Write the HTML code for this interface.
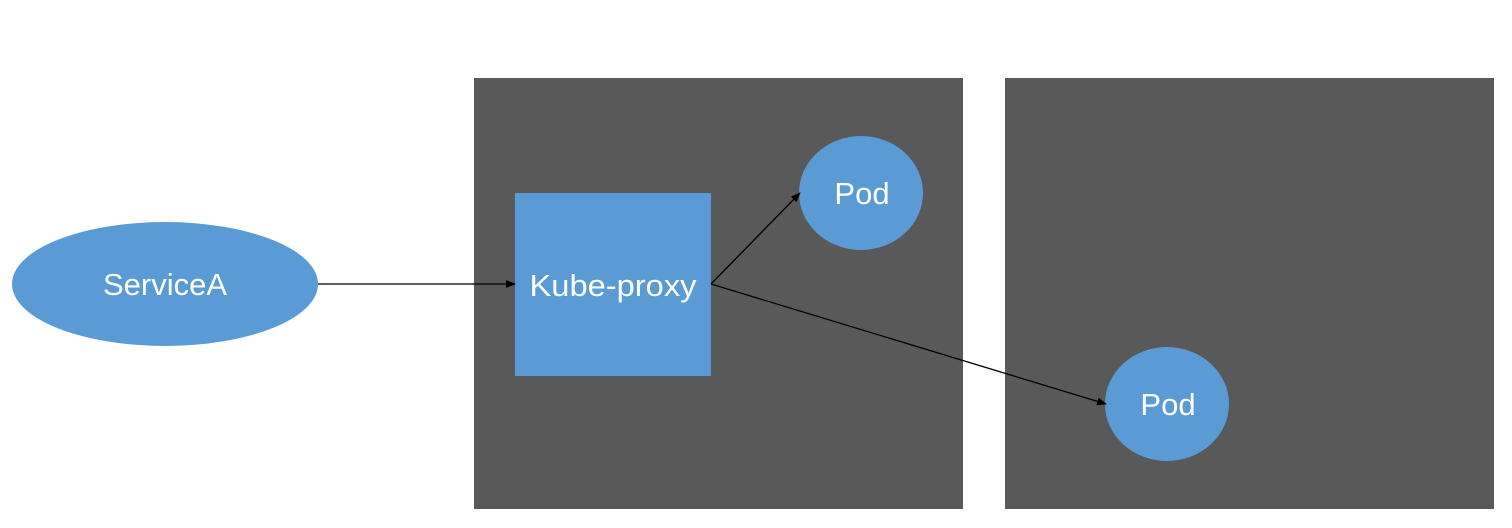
<!DOCTYPE html>
<html><head><meta charset="utf-8"><style>html,body{margin:0;padding:0;background:#fff;width:1512px;height:528px;overflow:hidden}</style></head>
<body>
<svg width="1512" height="528" viewBox="0 0 1512 528" xmlns="http://www.w3.org/2000/svg" font-family="Liberation Sans, DejaVu Sans, sans-serif">
<defs><marker id="a" markerWidth="10" markerHeight="8" refX="9" refY="4" orient="auto" markerUnits="userSpaceOnUse"><path d="M0,0 L10,4 L0,8 z" fill="#000"/></marker></defs>
<rect x="474" y="78" width="489" height="431" fill="#595959"/>
<rect x="1005" y="78" width="489" height="431" fill="#595959"/>
<ellipse cx="165" cy="284" rx="153" ry="62" fill="#5b9bd5"/>
<text x="165" y="295" fill="#fff" font-size="31" text-anchor="middle">ServiceA</text>
<rect x="515" y="193" width="196" height="183" fill="#5b9bd5"/>
<text x="613" y="296" fill="#fff" font-size="31" text-anchor="middle" textLength="167" lengthAdjust="spacingAndGlyphs">Kube-proxy</text>
<ellipse cx="861" cy="193" rx="62" ry="57" fill="#5b9bd5"/>
<text x="862" y="204" fill="#fff" font-size="31" text-anchor="middle">Pod</text>
<ellipse cx="1167" cy="404" rx="62" ry="57" fill="#5b9bd5"/>
<text x="1168" y="415" fill="#fff" font-size="31" text-anchor="middle">Pod</text>
<line x1="318" y1="284" x2="515" y2="284" stroke="#000" stroke-width="1.3" marker-end="url(#a)"/>
<line x1="711" y1="284" x2="800" y2="193" stroke="#000" stroke-width="1.3" marker-end="url(#a)"/>
<line x1="711" y1="284" x2="1106" y2="404" stroke="#000" stroke-width="1.3" marker-end="url(#a)"/>
</svg>
</body></html>
